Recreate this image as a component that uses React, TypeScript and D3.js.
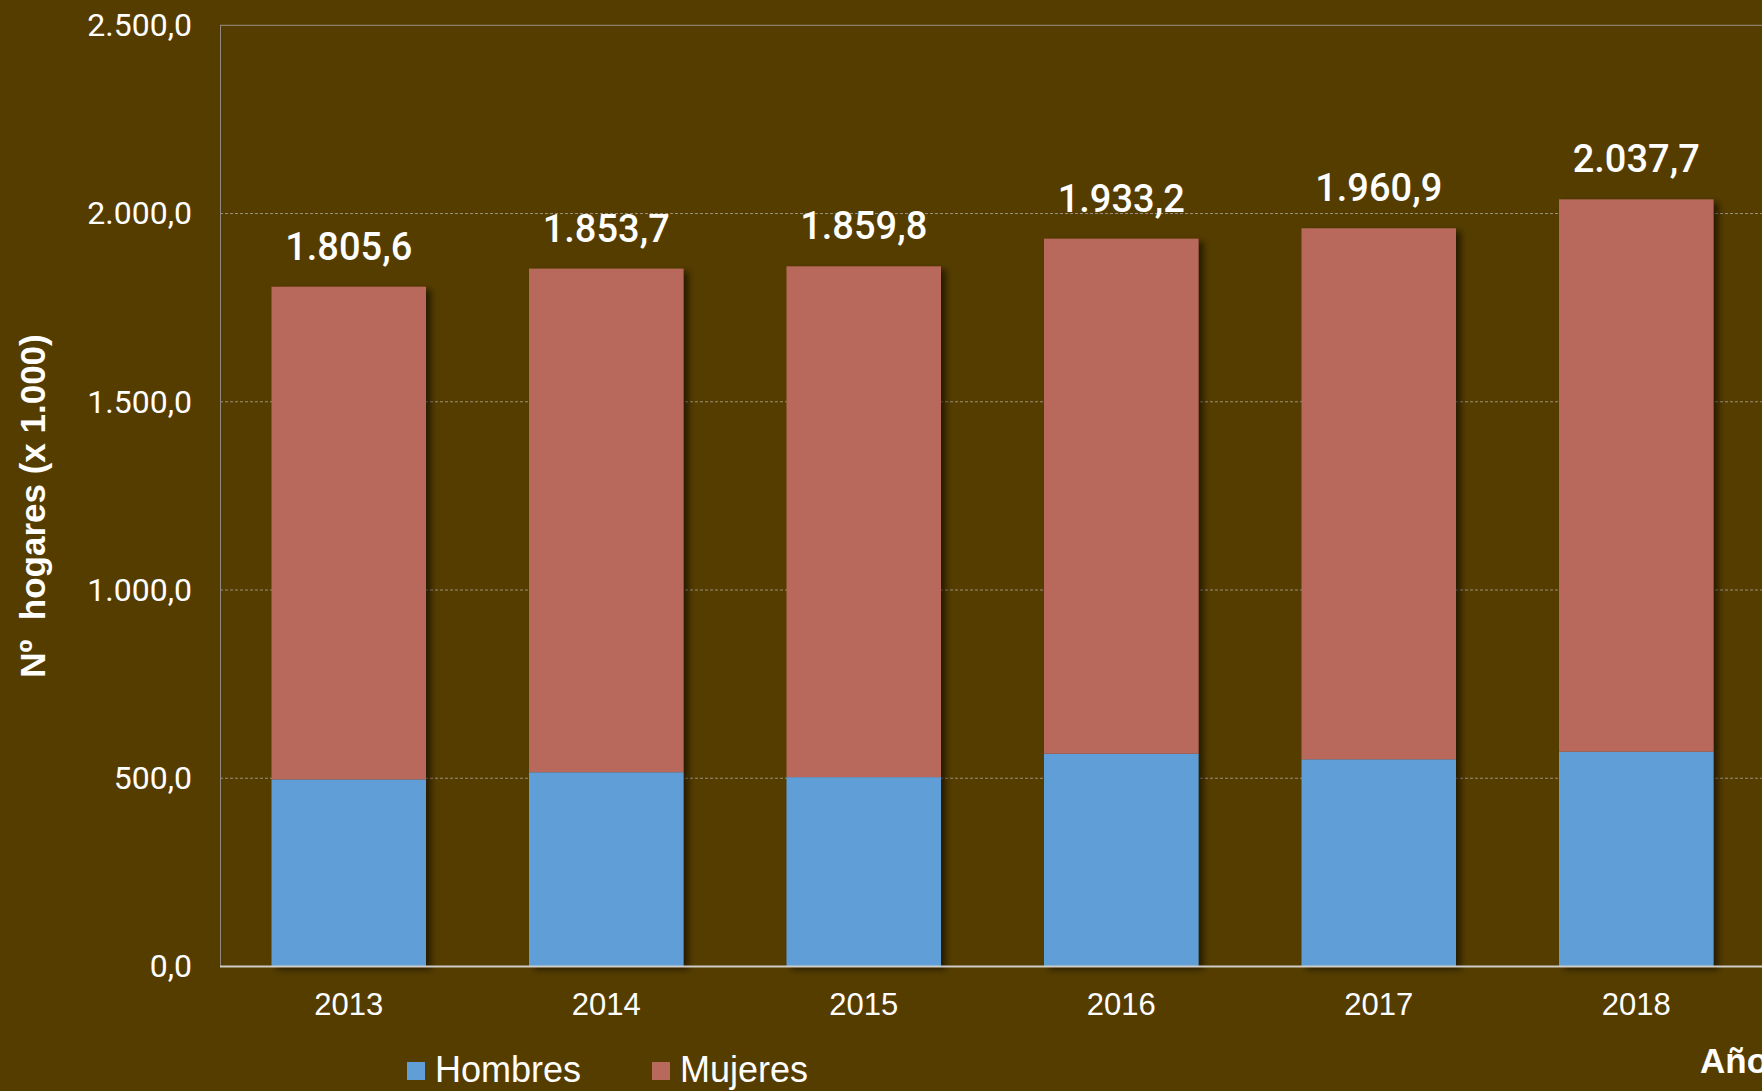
import React from 'react';
import * as d3 from 'd3';

const years = ['2013', '2014', '2015', '2016', '2017', '2018'];
const hombres = [497.0, 516.0, 503.0, 565.3, 550.3, 570.6];
const mujeres = [1308.6, 1337.7, 1356.8, 1367.9, 1410.6, 1467.1];
const yTicks = [0, 500, 1000, 1500, 2000, 2500];
const seriesNames = ['Hombres', 'Mujeres'];
const seriesColors = ['#5f9ed7', '#b9685c'];

const W = 1762;
const H = 1091;
const BG = '#553d00';

const esLocale = d3.formatLocale({decimal: ',', thousands: '.', grouping: [3], currency: ['', '€']});
const fmt = esLocale.format(',.1f');

export default function App() {
  const container = React.useRef<SVGSVGElement | null>(null);

  React.useEffect(() => {
    if (!container.current) return;
    const svg = d3.select(container.current);
    svg.selectAll('*').remove();

    const x = d3.scaleBand().domain(years).range([220, 1765]).paddingInner(0.4).paddingOuter(0.2);
    const y = d3.scaleLinear().domain([0, 2500]).range([966.5, 25.3]);

    const rows = years.map((yr, i) => ({year: yr, Hombres: hombres[i], Mujeres: mujeres[i]}));
    const stacked = d3.stack<any>().keys(seriesNames)(rows);

    const defs = svg.append('defs');
    const f = defs.append('filter').attr('id', 'shadow').attr('x', '-10%').attr('y', '-10%').attr('width', '130%').attr('height', '130%');
    f.append('feDropShadow')
      .attr('dx', 5).attr('dy', 3).attr('stdDeviation', 3)
      .attr('flood-color', '#000').attr('flood-opacity', 0.55);

    svg.append('rect').attr('width', W).attr('height', H).attr('fill', BG);

    /* grid lines */
    svg.append('g')
      .selectAll('line')
      .data(yTicks.filter(t => t > 0))
      .enter()
      .append('line')
      .attr('x1', 220).attr('x2', W)
      .attr('y1', d => y(d)).attr('y2', d => y(d))
      .attr('stroke', '#9a9080')
      .attr('stroke-width', 1)
      .attr('stroke-dasharray', d => (d === 2500 ? null : '3,2')) as any;

    // left border of plot area
    svg.append('line')
      .attr('x1', 220.5).attr('x2', 220.5)
      .attr('y1', y(2500)).attr('y2', y(0))
      .attr('stroke', '#8f8a80').attr('stroke-width', 1);

    /* bars */
    const bars = svg.append('g').attr('filter', 'url(#shadow)');
    stacked.forEach((layer, si) => {
      bars.append('g')
        .attr('fill', seriesColors[si])
        .selectAll('rect')
        .data(layer)
        .enter()
        .append('rect')
        .attr('x', (d: any) => x(d.data.year) as number)
        .attr('width', x.bandwidth())
        .attr('y', d => y(d[1]))
        .attr('height', d => y(d[0]) - y(d[1]));
    });

    // baseline
    svg.append('line')
      .attr('x1', 220).attr('x2', W)
      .attr('y1', y(0)).attr('y2', y(0))
      .attr('stroke', '#d0cdc8').attr('stroke-width', 2);

    /* total labels */
    svg.append('g')
      .selectAll('text')
      .data(rows)
      .enter()
      .append('text')
      .attr('x', d => (x(d.year) as number) + x.bandwidth() / 2)
      .attr('y', d => y(d.Hombres + d.Mujeres) - 27)
      .attr('text-anchor', 'middle')
      .style('font-family', 'Roboto')
      .style('font-weight', 500)
      .style('font-size', '38px')
      .attr('fill', '#fff')
      .text(d => fmt(d.Hombres + d.Mujeres));

    /* Y axis */
    const axisY = d3.axisLeft(y).tickValues(yTicks).tickSize(0).tickPadding(28).tickFormat(d => fmt(d as number));
    const gy = svg.append('g').attr('transform', 'translate(220,0)').call(axisY);
    gy.select('.domain').remove();
    gy.selectAll('text')
      .attr('fill', '#fff')
      .style('font-family', 'Roboto')
      .style('font-size', '32px');

    /* X axis */
    const axisX = d3.axisBottom(x).tickSize(0).tickPadding(26);
    const gx = svg.append('g').attr('transform', `translate(0,${y(0)})`).call(axisX);
    gx.select('.domain').remove();
    gx.selectAll('text')
      .attr('fill', '#fff')
      .style('font-family', '"Liberation Sans", Arial')
      .style('font-size', '31px');

    /* Axis titles */
    svg.append('text')
      .attr('transform', 'translate(45,506) rotate(-90)')
      .attr('text-anchor', 'middle')
      .style('font-family', '"Liberation Sans", Arial')
      .style('font-weight', 'bold')
      .style('font-size', '35px')
      .style('white-space', 'pre')
      .attr('fill', '#fff')
      .text('Nº  hogares (x 1.000)');

    svg.append('text')
      .attr('x', 1700).attr('y', 1073)
      .style('font-family', '"Liberation Sans", Arial')
      .style('font-weight', 'bold')
      .style('font-size', '35px')
      .attr('fill', '#fff')
      .text('Año');

    /* Legend */
    const legendX = [407, 652];
    const lg = svg.append('g');
    seriesNames.forEach((name, i) => {
      lg.append('rect')
        .attr('x', legendX[i]).attr('y', 1062)
        .attr('width', 18).attr('height', 18)
        .attr('fill', seriesColors[i]);
      lg.append('text')
        .attr('x', legendX[i] + 28).attr('y', 1082)
        .style('font-family', '"Liberation Sans", Arial')
        .style('font-size', '36px')
        .attr('fill', '#fff')
        .text(name);
    });
  }, []);

  return (
    <svg ref={container} width={W} height={H} style={{position: 'absolute', left: 0, top: 0, display: 'block'}} />
  );
}
